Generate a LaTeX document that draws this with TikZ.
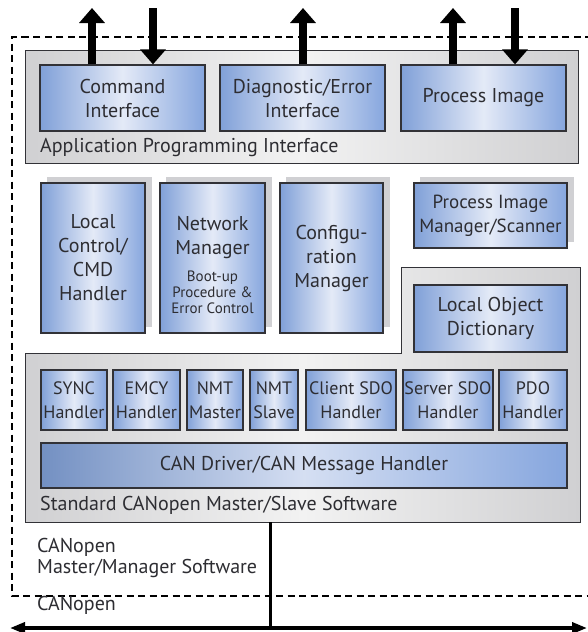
\documentclass[tikz,border=0pt]{standalone}
\usepackage{fontspec}
\setmainfont{PT Sans}
\usetikzlibrary{arrows.meta}
\definecolor{blueedge}{RGB}{128,160,216}
\definecolor{bluemid}{RGB}{228,234,247}
\definecolor{blueright}{RGB}{134,166,222}
\definecolor{grayedge}{RGB}{208,208,210}
\definecolor{graymid}{RGB}{242,242,242}
\definecolor{frame}{RGB}{50,50,55}
\definecolor{shadowgray}{RGB}{208,208,211}
\definecolor{txt}{RGB}{45,45,50}
\newcommand\smallnote{\fontsize{15}{16}\selectfont}
\tikzset{
  bluebox/.style={draw=frame, line width=1.2pt,
    left color=blueedge, right color=blueright, middle color=bluemid,
    text=txt, align=center, inner sep=0pt,
    font=\fontsize{20}{24}\selectfont},
  handlerbox/.style={bluebox, minimum height=60pt, font=\fontsize{18}{24}\selectfont},
  boxtext/.style={text=txt, align=center, inner sep=0pt,
    font=\fontsize{20}{24}\selectfont},
  graybox/.style={draw=frame, line width=1pt, left color=grayedge,
    right color=grayedge, middle color=graymid, inner sep=0pt},
  shadowbox/.style={fill=shadowgray, draw=none},
  boxlabel/.style={anchor=base west, text=txt, inner sep=0pt,
    font=\fontsize{20}{24}\selectfont},
  bigarrow/.style={line width=8pt, -{Triangle[width=25pt,length=15pt]}},
  dashframe/.style={line width=2.4pt, dash pattern=on 7pt off 4.5pt},
}
\begin{document}
\begin{tikzpicture}[x=1pt,y=-1pt]
\useasboundingbox (0,0) rectangle (587,632);
\fill[white] (0,0) rectangle (587,632);

% outer dashed frame of the master/manager software
\draw[dashframe] (592,37) -- (12,37) -- (12,596) -- (592,596);

% application programming interface
\node[graybox, minimum width=553pt, minimum height=113pt] (api) at (301.5,106.5) {};
\node[boxlabel] (apilbl) at (40,152) {Application Programming Interface};
\node[bluebox, minimum width=165pt, minimum height=66pt] (cmd) at (122.5,98) {Command\\Interface};
\node[bluebox, minimum width=165pt, minimum height=66pt] (diag) at (302.5,98) {Diagnostic/Error\\Interface};
\node[bluebox, minimum width=165pt, minimum height=66pt] (pimg) at (483.5,98) {Process Image};

% external interface arrows
\coordinate (t1) at (92,8);
\coordinate (t2) at (153,8);
\coordinate (t3) at (303,8);
\coordinate (t4) at (453,8);
\coordinate (t5) at (515,8);
\draw[bigarrow] (cmd.north -| t1) -- (t1);
\draw[bigarrow] (t2) -- (cmd.north -| t2);
\draw[bigarrow] (diag.north -| t3) -- (t3);
\draw[bigarrow] (pimg.north -| t4) -- (t4);
\draw[bigarrow] (t5) -- (pimg.north -| t5);

% management modules with shadows
\fill[shadowbox] (47,177) rectangle (152,327);
\fill[shadowbox] (166,177) rectangle (272,327);
\fill[shadowbox] (286,177) rectangle (390,327);
\fill[shadowbox] (420,177) rectangle (574,242);
\node[bluebox, minimum width=104pt, minimum height=150pt] (lcc) at (93,258) {Local\\Control/\\CMD\\Handler};
\node[bluebox, minimum width=105pt, minimum height=150pt] (nm) at (212.5,258) {};
\node[boxtext] (nmtext) at (212.5,264.5)
  {Network\\Manager\\[3pt]\smallnote Boot-up\\[-8pt]\smallnote Procedure \&\\[-8pt]\smallnote Error Control};
\node[bluebox, minimum width=103pt, minimum height=150pt] (cfg) at (331.5,258) {Configu-\\ration\\Manager};
\node[bluebox, minimum width=153pt, minimum height=65pt, font=\fontsize{19}{24}\selectfont]
  (pims) at (490.5,215.5) {Process Image\\Manager/Scanner};

% standard CANopen master/slave software
\path[graybox, draw=frame, line width=1pt]
  (25,353) -- (401,353) -- (401,267) -- (580,267) -- (580,522) -- (25,522) -- cycle;
\node[bluebox, minimum width=153pt, minimum height=67pt] (lod) at (490.5,318.5) {Local Object\\Dictionary};
\node[handlerbox, minimum width=66pt] (sync) at (74,400) {SYNC\\Handler};
\node[handlerbox, minimum width=67pt] (emcy) at (146.5,400) {EMCY\\Handler};
\node[handlerbox, minimum width=56pt] (nmtm) at (215,400) {NMT\\Master};
\node[handlerbox, minimum width=48pt] (nmts) at (274,400) {NMT\\Slave};
\node[handlerbox, minimum width=90pt] (csdo) at (351,400) {Client SDO\\Handler};
\node[handlerbox, minimum width=90pt] (ssdo) at (448,400) {Server SDO\\Handler};
\node[handlerbox, minimum width=68pt] (pdo) at (533,400) {PDO\\Handler};
\node[bluebox, minimum width=526pt, minimum height=45pt, left color=blueedge!90!black,
    right color=blueright, middle color=bluemid!85!blueedge]
  (can) at (304,465.5) {CAN Driver/CAN Message Handler};
\node[boxlabel] (stdlbl) at (40,510) {Standard CANopen Master/Slave Software};
\coordinate (stdbot) at (270,522);

% CANopen bus
\node[boxlabel] (mgrlbl1) at (37,552) {CANopen};
\node[boxlabel] (mgrlbl2) at (37,573) {Master/Manager Software};
\node[boxlabel] (buslbl) at (37,610) {CANopen};
\coordinate (busL) at (10,628);
\coordinate (busR) at (587,628);
\coordinate (tap) at (270,628);
\draw[line width=3pt] (stdbot) -- (tap);
\draw[line width=3.5pt, {Triangle[width=11pt,length=15pt]}-{Triangle[width=11pt,length=15pt]}] (busL) -- (busR);
\end{tikzpicture}
\end{document}
